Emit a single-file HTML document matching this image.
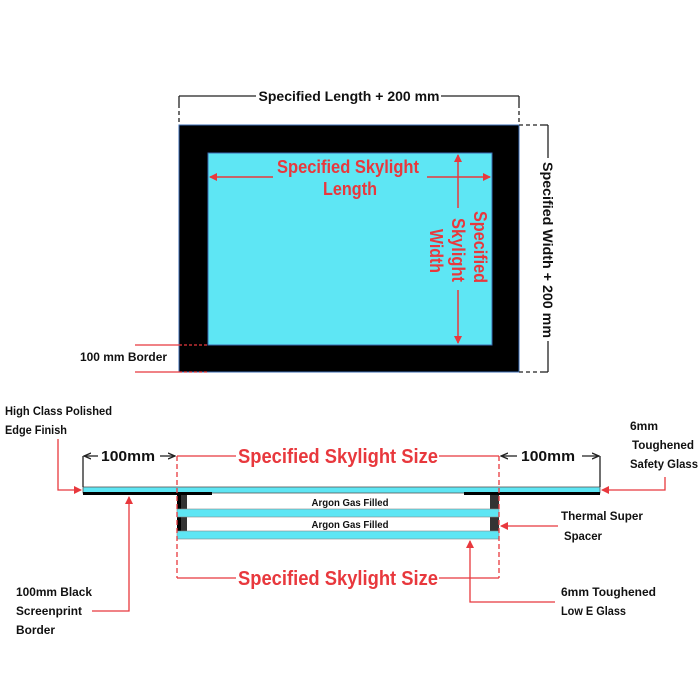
<!DOCTYPE html>
<html><head><meta charset="utf-8"><style>
html,body{margin:0;padding:0;background:#fff;}
svg{display:block;}
text{font-family:"Liberation Sans",sans-serif;font-weight:bold;}
</style></head><body>
<svg width="700" height="700" viewBox="0 0 700 700" xmlns="http://www.w3.org/2000/svg">
<defs>
<marker id="ar" markerWidth="8" markerHeight="8" refX="7" refY="4" orient="auto" markerUnits="userSpaceOnUse"><path d="M0,0 L8,4 L0,8 z" fill="#e8383d"/></marker>
<marker id="ab" markerWidth="8" markerHeight="8" refX="7" refY="4" orient="auto" markerUnits="userSpaceOnUse"><path d="M0,1 L7,4 L0,7" fill="none" stroke="#222" stroke-width="1.3"/></marker>
</defs>

<!-- TOP PLAN -->
<rect x="179" y="125" width="340" height="247" fill="#000" stroke="#3a6ab0" stroke-width="1"/>
<rect x="208" y="153" width="284" height="192" fill="#5ee6f4" stroke="#3a6ab0" stroke-width="1"/>

<!-- top dimension -->
<g stroke="#222" stroke-width="1.3" fill="none">
<line x1="179" y1="96" x2="256" y2="96"/><line x1="441" y1="96" x2="519" y2="96"/>
<line x1="179" y1="96" x2="179" y2="104"/><line x1="519" y1="96" x2="519" y2="104"/>
<line x1="179" y1="104" x2="179" y2="125" stroke-dasharray="4,3"/><line x1="519" y1="104" x2="519" y2="125" stroke-dasharray="4,3"/>
<line x1="519" y1="125" x2="540" y2="125" stroke-dasharray="4,3"/><line x1="519" y1="372" x2="540" y2="372" stroke-dasharray="4,3"/>
<line x1="540" y1="125" x2="548" y2="125"/><line x1="540" y1="372" x2="548" y2="372"/>
<line x1="548" y1="125" x2="548" y2="158"/><line x1="548" y1="341" x2="548" y2="372"/>
</g>
<text x="349" y="101" font-size="14" text-anchor="middle" textLength="181" lengthAdjust="spacingAndGlyphs" fill="#111">Specified Length + 200 mm</text>
<text transform="translate(543,250) rotate(90)" font-size="14" text-anchor="middle" textLength="176" lengthAdjust="spacingAndGlyphs" fill="#111">Specified Width + 200 mm</text>

<!-- inner dims -->
<g stroke="#e8383d" stroke-width="1.5">
<line x1="273" y1="177" x2="210" y2="177" marker-end="url(#ar)"/>
<line x1="427" y1="177" x2="490" y2="177" marker-end="url(#ar)"/>
<line x1="458" y1="208" x2="458" y2="155" marker-end="url(#ar)"/>
<line x1="458" y1="290" x2="458" y2="343" marker-end="url(#ar)"/>
</g>
<text x="348" y="173" font-size="18" text-anchor="middle" textLength="142" lengthAdjust="spacingAndGlyphs" fill="#e8383d">Specified  Skylight</text>
<text x="350" y="195" font-size="18" text-anchor="middle" textLength="54" lengthAdjust="spacingAndGlyphs" fill="#e8383d">Length</text>
<text transform="translate(474,247) rotate(90)" font-size="18" text-anchor="middle" textLength="72" lengthAdjust="spacingAndGlyphs" fill="#e8383d">Specified</text>
<text transform="translate(452,250) rotate(90)" font-size="18" text-anchor="middle" textLength="64" lengthAdjust="spacingAndGlyphs" fill="#e8383d">Skylight</text>
<text transform="translate(430,251) rotate(90)" font-size="18" text-anchor="middle" textLength="44" lengthAdjust="spacingAndGlyphs" fill="#e8383d">Width</text>

<!-- 100 mm border -->
<g stroke="#e8383d" stroke-width="1.2">
<line x1="135" y1="345" x2="179" y2="345"/><line x1="179" y1="345" x2="208" y2="345" stroke-dasharray="3,2"/>
<line x1="135" y1="372" x2="179" y2="372"/><line x1="179" y1="372" x2="208" y2="372" stroke-dasharray="3,2"/>
</g>
<text x="80" y="361" font-size="12" textLength="87" lengthAdjust="spacingAndGlyphs" fill="#111">100 mm Border</text>

<!-- SECTION -->
<rect x="83" y="487" width="517" height="6" fill="#5ee6f4" stroke="#555" stroke-width="0.8"/>
<rect x="83" y="492" width="129" height="3" fill="#000"/>
<rect x="464" y="492" width="136" height="3" fill="#000"/>
<rect x="177" y="495" width="10" height="36" fill="#333"/>
<rect x="177" y="495" width="4" height="36" fill="#000"/>
<rect x="490" y="495" width="9" height="36" fill="#333"/>
<rect x="177" y="509" width="322" height="8" fill="#5ee6f4" stroke="#888" stroke-width="0.6"/>
<rect x="177" y="531" width="322" height="8" fill="#5ee6f4" stroke="#888" stroke-width="0.6"/>
<text x="350" y="506" font-size="10" text-anchor="middle" textLength="77" lengthAdjust="spacingAndGlyphs" fill="#111">Argon Gas Filled</text>
<text x="350" y="528" font-size="10" text-anchor="middle" textLength="77" lengthAdjust="spacingAndGlyphs" fill="#111">Argon Gas Filled</text>

<!-- dims -->
<g stroke="#222" stroke-width="1.3" fill="none">
<line x1="83" y1="456" x2="83" y2="487"/><line x1="600" y1="456" x2="600" y2="487"/>
<line x1="98" y1="456" x2="84" y2="456" marker-end="url(#ab)"/>
<line x1="160" y1="456" x2="175" y2="456" marker-end="url(#ab)"/>
<line x1="517" y1="456" x2="501" y2="456" marker-end="url(#ab)"/>
<line x1="582" y1="456" x2="599" y2="456" marker-end="url(#ab)"/>
</g>
<text x="128" y="461" font-size="15" text-anchor="middle" textLength="54" lengthAdjust="spacingAndGlyphs" fill="#111">100mm</text>
<text x="548" y="461" font-size="15" text-anchor="middle" textLength="54" lengthAdjust="spacingAndGlyphs" fill="#111">100mm</text>
<g stroke="#e8383d" stroke-width="1.3" fill="none">
<line x1="177" y1="456" x2="236" y2="456"/><line x1="439" y1="456" x2="499" y2="456"/>
<line x1="177" y1="578" x2="236" y2="578"/><line x1="439" y1="578" x2="499" y2="578"/>
<line x1="177" y1="456" x2="177" y2="578" stroke-dasharray="5,3"/>
<line x1="499" y1="456" x2="499" y2="578" stroke-dasharray="5,3"/>
</g>
<text x="338" y="463" font-size="20" text-anchor="middle" textLength="200" lengthAdjust="spacingAndGlyphs" fill="#e8383d">Specified Skylight Size</text>
<text x="338" y="585" font-size="20" text-anchor="middle" textLength="200" lengthAdjust="spacingAndGlyphs" fill="#e8383d">Specified Skylight Size</text>

<!-- callouts -->
<g stroke="#e8383d" stroke-width="1.3" fill="none">
<polyline points="58,439 58,490 81,490" marker-end="url(#ar)"/>
<polyline points="665,477 665,490 602,490" marker-end="url(#ar)"/>
<line x1="558" y1="526" x2="501" y2="526" marker-end="url(#ar)"/>
<polyline points="555,602 470,602 470,541" marker-end="url(#ar)"/>
<polyline points="92,611 129,611 129,497" marker-end="url(#ar)"/>
</g>
<g font-size="12" fill="#111">
<text x="5" y="415" textLength="107" lengthAdjust="spacingAndGlyphs">High Class Polished</text>
<text x="5" y="434" textLength="62" lengthAdjust="spacingAndGlyphs">Edge Finish</text>
<text x="630" y="430" textLength="28" lengthAdjust="spacingAndGlyphs">6mm</text>
<text x="632" y="449" textLength="62" lengthAdjust="spacingAndGlyphs">Toughened</text>
<text x="630" y="468" textLength="68" lengthAdjust="spacingAndGlyphs">Safety Glass</text>
<text x="561" y="520" textLength="82" lengthAdjust="spacingAndGlyphs">Thermal Super</text>
<text x="564" y="540" textLength="38" lengthAdjust="spacingAndGlyphs">Spacer</text>
<text x="561" y="596" textLength="95" lengthAdjust="spacingAndGlyphs">6mm Toughened</text>
<text x="561" y="615" textLength="65" lengthAdjust="spacingAndGlyphs">Low E Glass</text>
<text x="16" y="596" textLength="76" lengthAdjust="spacingAndGlyphs">100mm Black</text>
<text x="16" y="615" textLength="66" lengthAdjust="spacingAndGlyphs">Screenprint</text>
<text x="16" y="634" textLength="39" lengthAdjust="spacingAndGlyphs">Border</text>
</g>
</svg>
</body></html>
